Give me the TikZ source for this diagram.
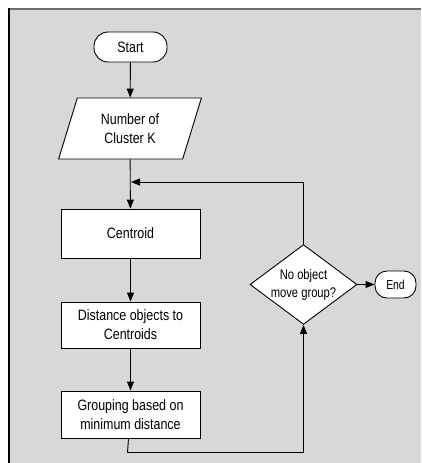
\documentclass[tikz,border=0pt]{standalone}
\usepackage{fontspec}
\setmainfont{Liberation Sans}[FakeStretch=0.83]
\newfontfamily\smallfnt{Liberation Sans}[FakeStretch=0.8]
\usetikzlibrary{shapes.geometric,arrows.meta}
\definecolor{bggray}{RGB}{216,216,216}
\definecolor{topline}{RGB}{110,110,110}
\tikzset{
  base/.style={draw=black, fill=white, line width=0.9pt, align=center, inner sep=0pt,
    font=\fontsize{15}{19}\selectfont},
  term/.style={base, rounded corners=14pt},
  procbox/.style={base, rectangle, minimum width=139pt},
  iobox/.style={base, trapezium, trapezium left angle=71, trapezium right angle=109,
    trapezium stretches=true, minimum width=144pt, minimum height=61pt},
  decbox/.style={base, diamond, minimum width=95pt, minimum height=71pt, aspect=1.34,
    font=\smallfnt\fontsize{14}{18}\selectfont},
  conn/.style={line width=0.9pt, draw=black},
  arr/.style={conn, -{Triangle[length=9pt,width=7pt]}}
}
\begin{document}
\begin{tikzpicture}[x=1pt,y=-1pt]
\useasboundingbox (0,0) rectangle (421,463);
\fill[bggray] (9,9) rectangle (421,463);
\draw[topline, line width=2pt] (9,9) -- (421,9);
\draw[black, line width=2pt] (9,8) -- (9,463);

\node[term, minimum width=73pt, minimum height=30pt] (start) at (130.5,47) {Start};
\node[iobox] (inp) at (130,128.5) {Number of\\Cluster K};
\node[procbox, minimum height=49pt] (cent) at (130.5,233.5) {Centroid};
\node[procbox, minimum height=46pt] (dist) at (130.5,325) {Distance objects to\\Centroids};
\node[procbox, minimum height=47pt] (grp) at (130.5,414.5) {Grouping based on\\minimum distance};
\node[decbox] (dec) at (303.5,284.5) {No object\\move group?};
\node[term, rounded corners=12pt, minimum width=41pt, minimum height=27pt,
      font=\smallfnt\fontsize{13}{16}\selectfont] (endn) at (395.5,284.5) {End};

\coordinate (join) at (130.5,182);

\draw[arr] (start) -- (inp);
\draw[arr] (inp) -- (cent);
\draw[arr] (cent) -- (dist);
\draw[arr] (dist) -- (grp);
\draw[arr] ([xshift=-2pt]grp.south) -- ++(-1,14) -| (dec.south);
\draw[arr] (dec.north) |- ([xshift=0.5pt]join);
\draw[arr] (dec.east) -- (endn.west);
\end{tikzpicture}
\end{document}
